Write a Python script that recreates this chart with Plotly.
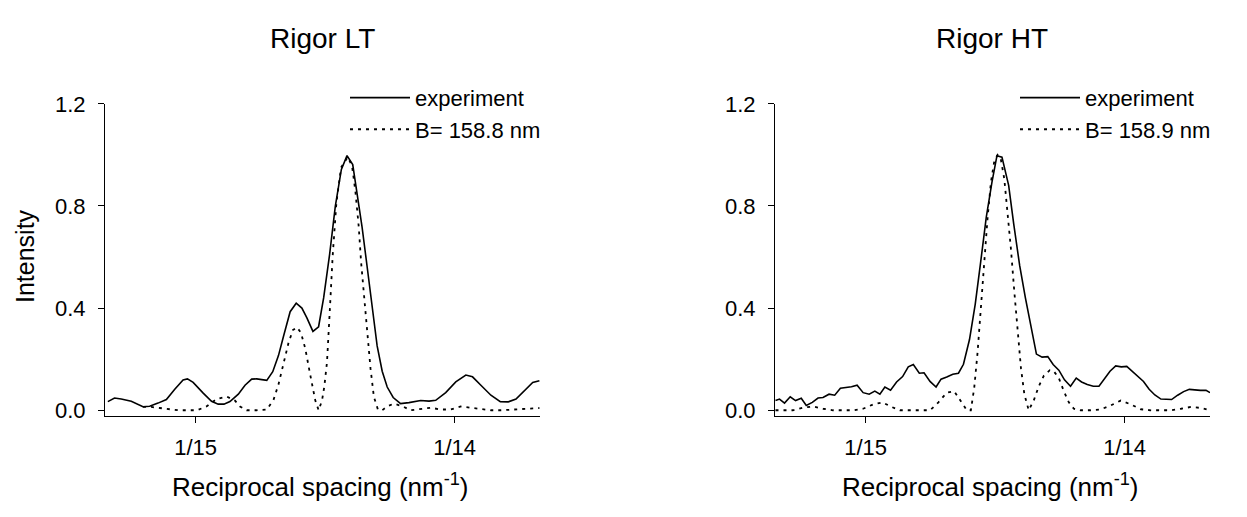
import plotly.graph_objects as go

# ---------------- data ----------------
lt_exp_x = [0.065052, 0.065175, 0.065298, 0.065483, 0.065698, 0.065821, 0.065975, 0.066129,
            0.066283, 0.066436, 0.066516, 0.066621, 0.066806, 0.066959, 0.067082, 0.067187,
            0.067298, 0.067452, 0.067575, 0.067698, 0.067790, 0.067883, 0.067975, 0.068085,
            0.068190, 0.068282, 0.068405, 0.068516, 0.068621, 0.068713, 0.068824, 0.068928,
            0.069021, 0.069131, 0.069236, 0.069347, 0.069451, 0.069556, 0.069636, 0.069728,
            0.069821, 0.069913, 0.070005, 0.070098, 0.070190, 0.070300, 0.070436, 0.070590,
            0.070805, 0.070959, 0.071082, 0.071266, 0.071451, 0.071636, 0.071759, 0.071913,
            0.072097, 0.072270, 0.072417, 0.072559, 0.072712, 0.072866, 0.072989]
lt_exp_y = [0.034, 0.048, 0.044, 0.035, 0.014, 0.016, 0.028, 0.042,
            0.082, 0.119, 0.123, 0.109, 0.067, 0.035, 0.024, 0.024,
            0.034, 0.063, 0.098, 0.122, 0.123, 0.119, 0.117, 0.151,
            0.214, 0.289, 0.386, 0.419, 0.400, 0.362, 0.309, 0.327,
            0.440, 0.610, 0.799, 0.943, 0.997, 0.962, 0.855, 0.717,
            0.562, 0.403, 0.252, 0.153, 0.091, 0.050, 0.026, 0.030,
            0.038, 0.036, 0.039, 0.069, 0.111, 0.138, 0.131, 0.098,
            0.059, 0.034, 0.033, 0.044, 0.078, 0.109, 0.116]

lt_fit_x = [0.065698, 0.065852, 0.066006, 0.066160, 0.066344, 0.066529, 0.066695, 0.066867,
            0.067052, 0.067237, 0.067390, 0.067483, 0.067606, 0.067790, 0.067975, 0.068098,
            0.068190, 0.068282, 0.068375, 0.068455, 0.068529, 0.068603, 0.068683, 0.068775,
            0.068868, 0.068929, 0.068991, 0.069034, 0.069083, 0.069131, 0.069187, 0.069255,
            0.069341, 0.069464, 0.069544, 0.069606, 0.069667, 0.069710, 0.069760, 0.069821,
            0.069883, 0.069945, 0.070019, 0.070098, 0.070190, 0.070313, 0.070467, 0.070620,
            0.070805, 0.070990, 0.071174, 0.071358, 0.071543, 0.071728, 0.071913, 0.072097,
            0.072281, 0.072466, 0.072650, 0.072835, 0.072989]
lt_fit_y = [0.013, 0.013, 0.009, 0.004, 0.000, 0.000, 0.000, 0.015,
            0.044, 0.054, 0.038, 0.015, 0.000, 0.000, 0.003, 0.040,
            0.101, 0.182, 0.264, 0.314, 0.325, 0.304, 0.242, 0.138,
            0.038, 0.000, 0.038, 0.094, 0.189, 0.377, 0.604, 0.811,
            0.950, 0.991, 0.956, 0.855, 0.717, 0.579, 0.453, 0.314,
            0.164, 0.053, 0.003, 0.000, 0.015, 0.026, 0.016, 0.000,
            0.006, 0.010, 0.003, 0.003, 0.015, 0.010, 0.003, 0.000,
            0.000, 0.003, 0.006, 0.009, 0.009]

ht_exp_x = [0.065009, 0.065083, 0.065175, 0.065280, 0.065378, 0.065483, 0.065575, 0.065686,
            0.065791, 0.065883, 0.065994, 0.066098, 0.066203, 0.066313, 0.066406, 0.066510,
            0.066621, 0.066732, 0.066836, 0.066929, 0.067021, 0.067125, 0.067236, 0.067347,
            0.067451, 0.067544, 0.067654, 0.067741, 0.067851, 0.067962, 0.068054, 0.068159,
            0.068270, 0.068374, 0.068466, 0.068577, 0.068682, 0.068774, 0.068885, 0.068990,
            0.069082, 0.069174, 0.069297, 0.069390, 0.069500, 0.069605, 0.069709, 0.069808,
            0.069912, 0.070017, 0.070115, 0.070220, 0.070324, 0.070435, 0.070540, 0.070638,
            0.070743, 0.070854, 0.070958, 0.071050, 0.071161, 0.071266, 0.071370, 0.071469,
            0.071573, 0.071678, 0.071777, 0.071881, 0.071986, 0.072097, 0.072189, 0.072294,
            0.072405, 0.072515, 0.072620, 0.072712, 0.072823, 0.072927, 0.073000]
ht_exp_y = [0.038, 0.044, 0.028, 0.053, 0.038, 0.047, 0.019, 0.031,
            0.048, 0.050, 0.063, 0.059, 0.086, 0.088, 0.092, 0.098,
            0.069, 0.063, 0.075, 0.063, 0.091, 0.079, 0.111, 0.132,
            0.170, 0.179, 0.145, 0.147, 0.113, 0.091, 0.122, 0.130,
            0.141, 0.145, 0.180, 0.277, 0.415, 0.566, 0.755, 0.893,
            0.997, 0.991, 0.881, 0.730, 0.566, 0.440, 0.327, 0.220,
            0.208, 0.210, 0.179, 0.157, 0.119, 0.094, 0.126, 0.111,
            0.101, 0.094, 0.094, 0.119, 0.153, 0.174, 0.170, 0.172,
            0.153, 0.132, 0.113, 0.082, 0.060, 0.044, 0.044, 0.042,
            0.059, 0.073, 0.082, 0.079, 0.078, 0.078, 0.069]

ht_fit_x = [0.065009, 0.065175, 0.065329, 0.065514, 0.065698, 0.065883, 0.066067, 0.066252,
            0.066436, 0.066621, 0.066806, 0.066978, 0.067144, 0.067298, 0.067482, 0.067667,
            0.067852, 0.068005, 0.068159, 0.068295, 0.068405, 0.068528, 0.068602, 0.068664,
            0.068725, 0.068787, 0.068848, 0.068910, 0.068971, 0.069033, 0.069094, 0.069155,
            0.069217, 0.069278, 0.069340, 0.069401, 0.069463, 0.069524, 0.069586, 0.069666,
            0.069758, 0.069851, 0.069943, 0.070054, 0.070127, 0.070220, 0.070312, 0.070404,
            0.070497, 0.070620, 0.070805, 0.070989, 0.071174, 0.071358, 0.071543, 0.071727,
            0.071912, 0.072097, 0.072281, 0.072466, 0.072650, 0.072835, 0.073000]
ht_fit_y = [0.000, 0.000, 0.000, 0.010, 0.015, 0.006, 0.000, 0.000,
            0.000, 0.006, 0.023, 0.031, 0.013, 0.000, 0.000, 0.000,
            0.000, 0.031, 0.069, 0.075, 0.038, 0.000, 0.000, 0.088,
            0.226, 0.403, 0.591, 0.755, 0.893, 0.975, 1.000, 0.981,
            0.906, 0.780, 0.629, 0.465, 0.302, 0.164, 0.063, 0.000,
            0.038, 0.094, 0.135, 0.157, 0.153, 0.126, 0.075, 0.031,
            0.006, 0.000, 0.000, 0.003, 0.019, 0.038, 0.023, 0.004,
            0.000, 0.000, 0.000, 0.006, 0.013, 0.009, 0.000]

panel_titles = ["Rigor LT", "Rigor HT"]
fit_names = ["B= 158.8 nm", "B= 158.9 nm"]
x_tick_vals = [1 / 15, 1 / 14]
x_tick_text = ["1/15", "1/14"]
y_tick_vals = [0.0, 0.4, 0.8, 1.2]
y_tick_text = ["0.0", "0.4", "0.8", "1.2"]

# ---------------- figure ----------------
W, H = 1247, 517
FONT = "Liberation Sans, Arial, sans-serif"
DOT = "3px,5px"

fig = go.Figure()
fig.add_trace(go.Scatter(x=lt_exp_x, y=lt_exp_y, mode="lines", name="experiment",
                         line=dict(color="black", width=1.6), xaxis="x", yaxis="y",
                         legend="legend"))
fig.add_trace(go.Scatter(x=lt_fit_x, y=lt_fit_y, mode="lines", name=fit_names[0],
                         line=dict(color="black", width=1.8, dash=DOT), xaxis="x", yaxis="y",
                         legend="legend"))
fig.add_trace(go.Scatter(x=ht_exp_x, y=ht_exp_y, mode="lines", name="experiment",
                         line=dict(color="black", width=1.6), xaxis="x2", yaxis="y2",
                         legend="legend2"))
fig.add_trace(go.Scatter(x=ht_fit_x, y=ht_fit_y, mode="lines", name=fit_names[1],
                         line=dict(color="black", width=1.8, dash=DOT), xaxis="x2", yaxis="y2",
                         legend="legend2"))

# page body has an 8px margin: figure coordinates = screen coordinates - 8
OFF = 8
ydom = [(H - (419 - OFF)) / H, (H - (95 - OFF)) / H]
xdoms = [[(105 - OFF) / W, (540 - OFF) / W], [(775 - OFF) / W, (1210 - OFF) / W]]

xax = dict(range=[0.065, 0.073], tickmode="array", tickvals=x_tick_vals, ticktext=x_tick_text,
           ticks="outside", ticklen=6, tickwidth=1, tickcolor="black",
           showline=True, linecolor="black", linewidth=1, showgrid=False, zeroline=False,
           tickfont=dict(family=FONT, size=22, color="black"), ticklabelstandoff=6)
yax = dict(range=[-0.022, 1.2], tickmode="array", tickvals=y_tick_vals, ticktext=y_tick_text,
           ticks="outside", ticklen=6, tickwidth=1, tickcolor="black",
           showline=True, linecolor="black", linewidth=1, showgrid=False, zeroline=False,
           tickfont=dict(family=FONT, size=22, color="black"), ticklabelstandoff=8, domain=ydom)

leg = dict(font=dict(family=FONT, size=22, color="black"), bgcolor="rgba(0,0,0,0)",
           xanchor="left", yanchor="top", itemwidth=60, tracegroupgap=0)

fig.update_layout(
    width=W, height=H, margin=dict(l=0, r=0, t=0, b=0),
    paper_bgcolor="white", plot_bgcolor="white",
    xaxis=dict(xax, domain=xdoms[0], anchor="y"),
    xaxis2=dict(xax, domain=xdoms[1], anchor="y2"),
    yaxis=dict(yax, anchor="x"),
    yaxis2=dict(yax, anchor="x2"),
    legend=dict(leg, x=(345 - OFF) / W, y=(H - (67 - OFF)) / H),
    legend2=dict(leg, x=(1015 - OFF) / W, y=(H - (67 - OFF)) / H),
    showlegend=True,
)

annots = []
for i, cx in enumerate([322, 992]):
    annots.append(dict(text=panel_titles[i], x=(cx - OFF) / W, y=(H - (27 - OFF)) / H,
                       xref="paper", yref="paper", showarrow=False, xanchor="center",
                       yanchor="middle", font=dict(family=FONT, size=28, color="black")))
    annots.append(dict(text="Reciprocal spacing (nm<sup>-1</sup>)", x=(cx - 2 - OFF) / W,
                       y=(H - (491 - OFF)) / H, xref="paper", yref="paper", showarrow=False,
                       xanchor="center", yanchor="middle",
                       font=dict(family=FONT, size=26, color="black")))
annots.append(dict(text="Intensity", x=(25 - OFF) / W, y=(H - (253 - OFF)) / H,
                   xref="paper", yref="paper", showarrow=False, textangle=-90,
                   xanchor="center", yanchor="middle",
                   font=dict(family=FONT, size=25, color="black")))
fig.update_layout(annotations=annots)

fig.write_html("out.html")
